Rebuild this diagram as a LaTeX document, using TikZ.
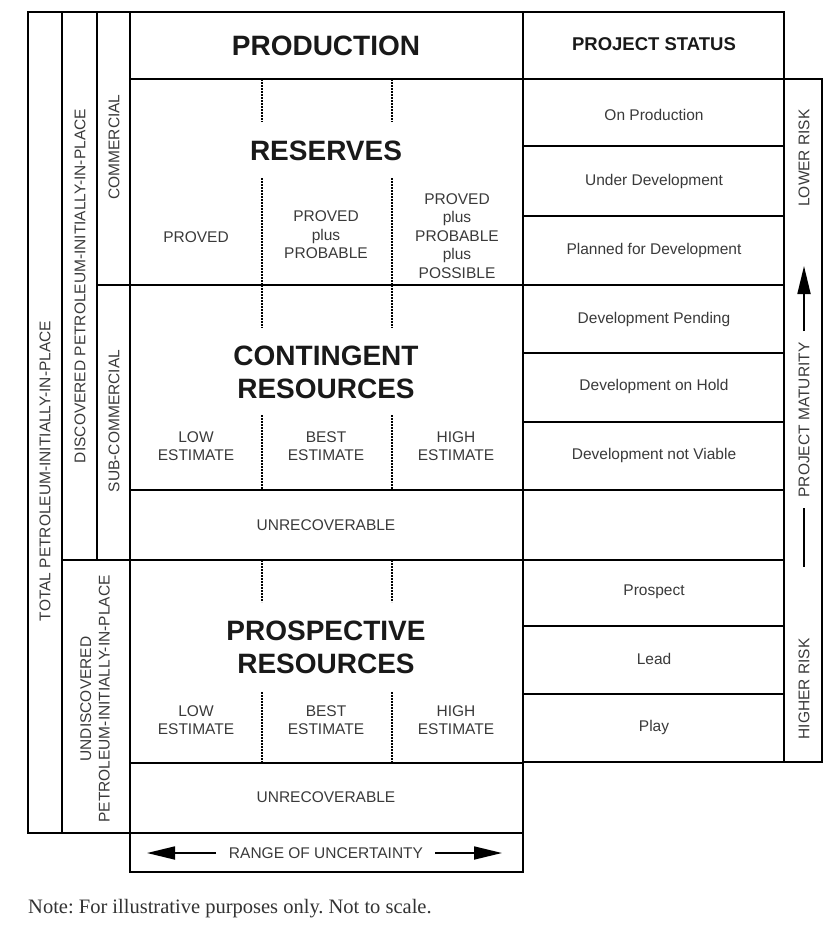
\documentclass[tikz,border=0pt]{standalone}
\usepackage{fontspec}
\setmainfont{Liberation Sans}
\newfontfamily\notefont{Liberation Serif}
\usetikzlibrary{arrows.meta}
\definecolor{txt}{HTML}{3A3A3A}
\frenchspacing
\begin{document}
\begin{tikzpicture}[x=1pt,y=-1pt,
  box/.style={draw=black,line width=1.8pt},
  dots/.style={draw=black,line width=1.7pt,dash pattern=on 1.6pt off 1.4pt},
  title/.style={font=\fontsize{28}{33}\selectfont\bfseries,text=black!90,align=center},
  hdr/.style={font=\fontsize{18.5}{21}\selectfont\bfseries,text=black!90},
  lab/.style={font=\fontsize{15.5}{18.5}\selectfont,text=txt,align=center},
  vlab/.style={lab,rotate=90},
  arr/.style={line width=1.8pt,-{Triangle[length=28pt,width=13pt]}},
  plain/.style={line width=1.8pt}]
\useasboundingbox[fill=white] (0,0) rectangle (828,932);
% left classification columns
\draw[box] (28,12) rectangle (62,833);
\draw[box] (62,12) rectangle (97,560);
\draw[box] (97,12) rectangle (130,285);
\draw[box] (97,285) rectangle (130,560);
\draw[box] (62,560) rectangle (130,833);
% main column
\draw[box] (130,12) rectangle (523,79);
\draw[box] (130,79) rectangle (523,285);
\draw[box] (130,285) rectangle (523,490);
\draw[box] (130,490) rectangle (523,560);
\draw[box] (130,560) rectangle (523,763);
\draw[box] (130,763) rectangle (523,833);
\draw[box] (130,833) rectangle (523,872);
% status column
\foreach \a/\b in {12/79,79/146,146/216,216/285,285/353,353/422,422/490,490/560,560/626,626/694,694/762}
  \draw[box] (523,\a) rectangle (784,\b);
% maturity column
\draw[box] (784,79) rectangle (822,762);
% dotted separators
\foreach \x in {262,392}{
  \draw[dots] (\x,79) -- (\x,122);
  \draw[dots] (\x,178) -- (\x,285);
  \draw[dots] (\x,285) -- (\x,328);
  \draw[dots] (\x,415) -- (\x,490);
  \draw[dots] (\x,560) -- (\x,602);
  \draw[dots] (\x,692) -- (\x,763);
}
% vertical labels
\node[vlab] (tot) at (45,471) {TOTAL PETROLEUM-INITIALLY-IN-PLACE};
\node[vlab] (disc) at (80,286) {DISCOVERED PETROLEUM-INITIALLY-IN-PLACE};
\node[vlab] (comm) at (114,147) {COMMERCIAL};
\node[vlab] (subc) at (114,421) {SUB-COMMERCIAL};
\node[vlab] (undisc) at (95,699) {UNDISCOVERED\\PETROLEUM-INITIALLY-IN-PLACE};
% main texts
\node[title] (prod) at (326,46) {PRODUCTION};
\node[hdr] (status) at (654,44) {PROJECT STATUS};
\node[title] (res) at (326,151) {RESERVES};
\node[lab] (p1) at (196,237) {PROVED};
\node[lab] (p2) at (326,235) {PROVED\\plus\\PROBABLE};
\node[lab] (p3) at (457,236) {PROVED\\plus\\PROBABLE\\plus\\POSSIBLE};
\node[title] (cont) at (326,372) {CONTINGENT\\RESOURCES};
\node[lab] (c1) at (196,446) {LOW\\ESTIMATE};
\node[lab] (c2) at (326,446) {BEST\\ESTIMATE};
\node[lab] (c3) at (456,446) {HIGH\\ESTIMATE};
\node[lab] (u1) at (326,525) {UNRECOVERABLE};
\node[title] (pros) at (326,647) {PROSPECTIVE\\RESOURCES};
\node[lab] (r1) at (196,720) {LOW\\ESTIMATE};
\node[lab] (r2) at (326,720) {BEST\\ESTIMATE};
\node[lab] (r3) at (456,720) {HIGH\\ESTIMATE};
\node[lab] (u2) at (326,797) {UNRECOVERABLE};
\node[lab] (range) at (326,853) {RANGE OF UNCERTAINTY};
% status texts
\node[lab] (s1) at (654,115) {On Production};
\node[lab] (s2) at (654,181) {Under Development};
\node[lab] (s3) at (654,250) {Planned for Development};
\node[lab] (s4) at (654,319) {Development Pending};
\node[lab] (s5) at (654,386) {Development on Hold};
\node[lab] (s6) at (654,455) {Development not Viable};
\node[lab] (s7) at (654,592) {Prospect};
\node[lab] (s8) at (654,659) {Lead};
\node[lab] (s9) at (654,727) {Play};
% maturity texts
\node[vlab] (lr) at (804,158) {LOWER RISK};
\node[vlab] (pm) at (804,420) {PROJECT MATURITY};
\node[vlab] (hr) at (804,689) {HIGHER RISK};
% arrows
\coordinate (mA) at (804,331);
\coordinate (mB) at (804,266);
\coordinate (mC) at (804,508);
\coordinate (mD) at (804,567);
\draw[arr] (mA) -- (mB);
\draw[plain] (mC) -- (mD);
\coordinate (lA) at (216,853);
\coordinate (lB) at (147,853);
\coordinate (rA) at (435,853);
\coordinate (rB) at (502,853);
\draw[arr] (lA) -- (lB);
\draw[arr] (rA) -- (rB);
% note
\node[anchor=west,font=\notefont\fontsize{20.5}{23}\selectfont,text=black!80,inner sep=0pt] (note) at (28,909) {Note: For illustrative purposes only. Not to scale.};
\end{tikzpicture}
\end{document}
